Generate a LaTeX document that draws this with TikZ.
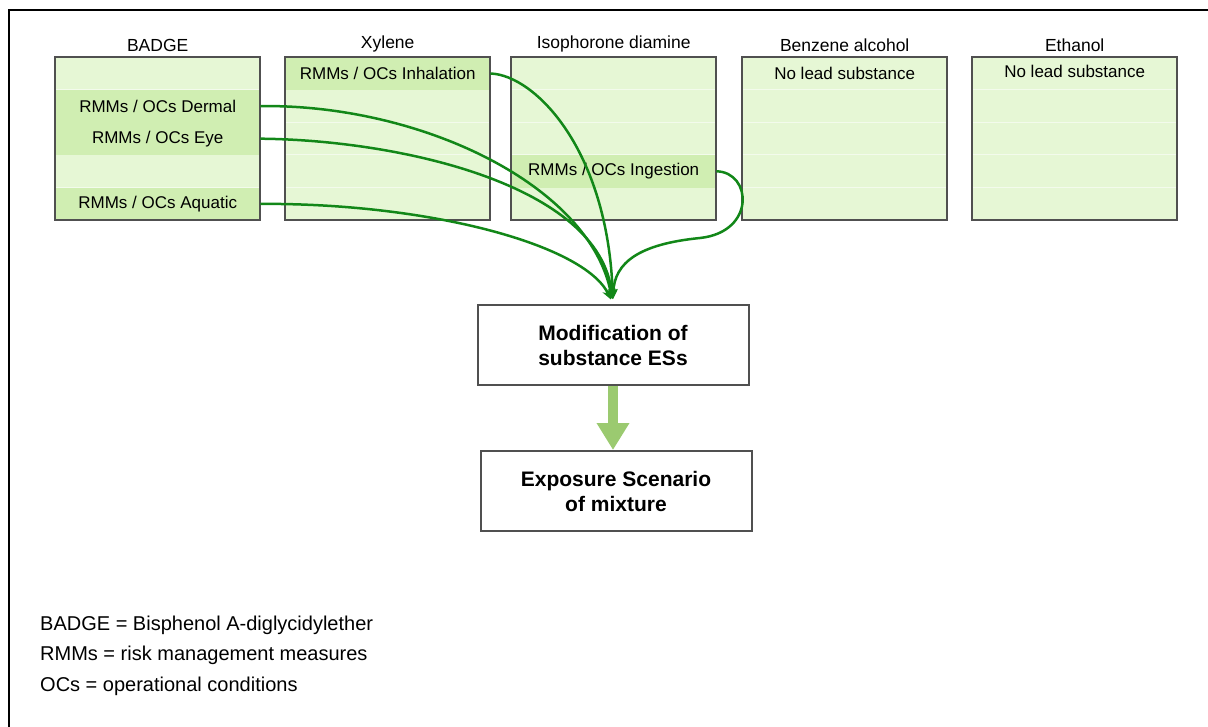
\documentclass[tikz,border=0pt]{standalone}
\usepackage{fontspec}
\setmainfont{Liberation Sans}
\usetikzlibrary{positioning,calc,arrows.meta}
\definecolor{boxfill}{RGB}{230,247,213}
\definecolor{bandfill}{RGB}{208,238,178}
\definecolor{rowsep}{RGB}{243,251,236}
\definecolor{boxgray}{RGB}{80,80,80}
\definecolor{linkgreen}{RGB}{18,135,24}
\definecolor{flowgreen}{RGB}{155,202,112}
\tikzset{
  substbox/.style={fill=boxfill, anchor=north west, minimum width=205pt,
    minimum height=163pt, inner sep=0pt},
  edgeline/.style={draw=boxgray, line width=2pt},
  headtext/.style={font=\fontsize{17.5}{20}\selectfont, inner sep=2pt},
  bandtext/.style={anchor=north west, minimum width=205pt, minimum height=32.6pt,
    inner sep=0pt, font=\fontsize{17}{20}\selectfont},
  band/.style={bandtext, fill=bandfill},
  link/.style={draw=linkgreen, line width=2.5pt, -{Stealth[length=10pt,width=9pt]},
    shorten >=5pt},
  stepbox/.style={draw=boxgray, line width=2pt, fill=white, minimum width=271pt,
    minimum height=80pt, align=center, font=\bfseries\fontsize{21}{25}\selectfont},
  legendtext/.style={anchor=base west, inner sep=0pt, font=\fontsize{20}{24}\selectfont}
}
\begin{document}
\begin{tikzpicture}[x=1pt,y=-1pt]
\useasboundingbox (0,0) rectangle (1208,727);
% frame
\draw[line width=2.5pt] (9,727) -- (9,10) -- (1208,10);

% substance boxes
\foreach \name/\x/\title in {badge/55/BADGE, xylene/285/Xylene, ipda/511/Isophorone diamine,
  benzalc/742/Benzene alcohol, ethanol/972/Ethanol} {
  \node[substbox] (\name) at (\x,57) {};
  \foreach \r in {1,...,4}
    \draw[rowsep, line width=1pt] ($(\name.north west)+(0,32.6*\r)$) -- ++(205,0);
  \node[headtext, above=3pt of \name] (\name-title) {\title};
}

% RMM / OC bands
\node[band] (dermal) at ($(badge.north west)+(0,32.6)$) {RMMs / OCs Dermal};
\node[band] (eye) at ($(badge.north west)+(0,65.2)$) {RMMs / OCs Eye};
\node[band] (aquatic) at ($(badge.north west)+(0,130.4)$) {RMMs / OCs Aquatic};
\node[band] (inhal) at (xylene.north west) {RMMs / OCs Inhalation};
\node[band] (ingest) at ($(ipda.north west)+(0,97.8)$) {RMMs / OCs Ingestion};
\node[bandtext] (benzalc-none) at (benzalc.north west) {No lead substance};
\node[bandtext] (ethanol-none) at ($(ethanol.north west)+(0,-2)$) {No lead substance};

\foreach \name in {badge,xylene,ipda,benzalc,ethanol}
  \draw[edgeline] (\name.north west) rectangle (\name.south east);

% process
\node[stepbox] (mod) at (613,345) {Modification of\\substance ESs};
\node[stepbox, below=64pt of mod, xshift=3pt] (expo) {Exposure Scenario\\of mixture};

\draw[link] (dermal.east) .. controls (420,104) and (590,185) .. (mod.north);
\draw[link] (eye.east) .. controls (400,140) and (600,185) .. (mod.north);
\draw[link] (aquatic.east) .. controls (430,203) and (585,245) .. (mod.north);
\draw[link] (inhal.east) .. controls (535,75) and (608,150) .. (mod.north);
\draw[link] (ingest.east) .. controls (752,172) and (756,232) .. (700,238)
  .. controls (640,244) and (614,262) .. (mod.north);

\draw[flowgreen, line width=10pt, -{Triangle[length=27pt,width=31pt]}]
  (mod.south) -- (mod.south |- expo.north);

% legend
\node[legendtext] (leg-badge) at (40,630) {BADGE = Bisphenol A-diglycidylether};
\node[legendtext] (leg-rmm) at (40,660) {RMMs = risk management measures};
\node[legendtext] (leg-oc) at (40,691) {OCs = operational conditions};
\end{tikzpicture}
\end{document}
